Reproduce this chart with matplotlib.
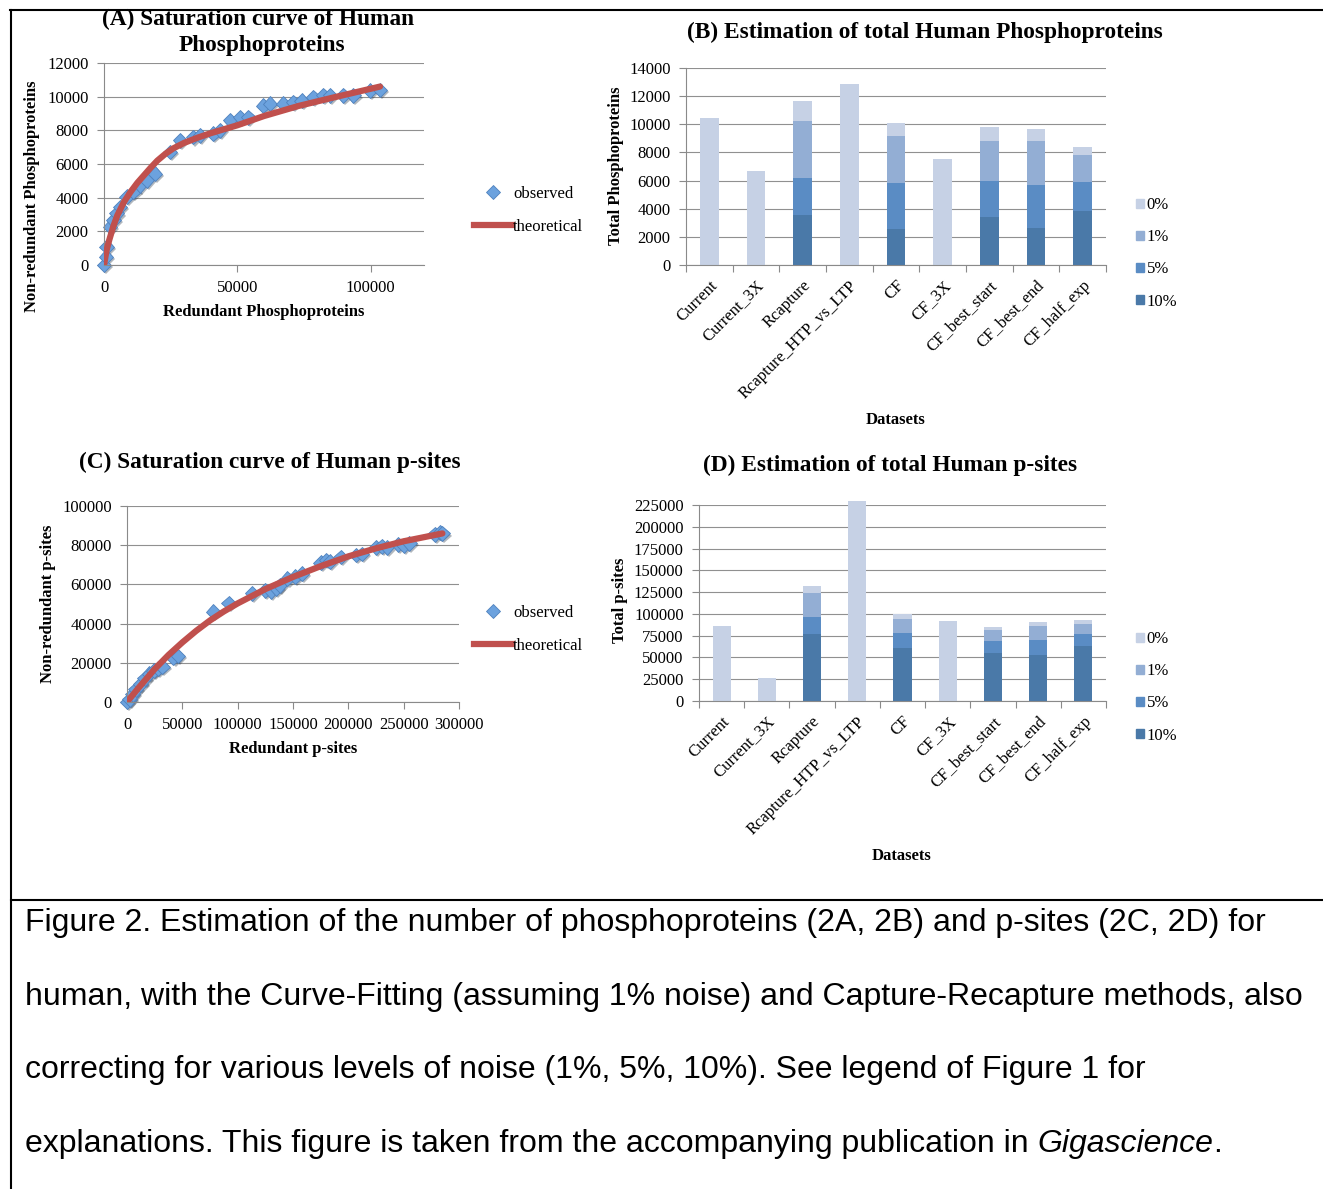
import numpy as np
import matplotlib
matplotlib.use("Agg")
import matplotlib.pyplot as plt
from matplotlib.lines import Line2D
from matplotlib.patches import Patch
import matplotlib.patheffects as pe

# saturation curve of phosphoproteins (panel A)
prot_obs_x = [0, 750, 1000, 2250, 3500, 4750, 6000, 8500, 11000, 13500, 16000, 19100,
              24750, 28500, 33500, 36000, 41000, 43500, 47250, 51000, 54100, 59750,
              62250, 67250, 71000, 74100, 78500, 82250, 84750, 89750, 93500, 99750, 103500]
prot_obs_y = [0, 490, 1090, 2270, 2660, 3060, 3450, 4050, 4340, 4740, 5030, 5430,
              6710, 7400, 7600, 7700, 7800, 8000, 8590, 8780, 8780, 9475,
              9575, 9575, 9670, 9770, 9970, 10070, 10070, 10070, 10070, 10360, 10400]
prot_fit_x = [0, 1000, 2000, 3500, 5000, 7500, 10000, 12500, 15000, 17500, 20000, 23000,
              26000, 30000, 35000, 40000, 50000, 60000, 73000, 86000, 103500]
prot_fit_y = [0, 900, 1500, 2300, 2950, 3750, 4350, 4880, 5330, 5780, 6200, 6600,
              6930, 7250, 7560, 7830, 8300, 8850, 9450, 9950, 10600]

# saturation curve of p-sites (panel C)
site_obs_x = [0, 2400, 5000, 8000, 12000, 16000, 20000, 24000, 28000, 32000, 42000, 46000,
              78000, 92000, 113000, 125000, 130000, 135000, 138000, 145000, 152000, 158000,
              175000, 180000, 183000, 193000, 207000, 212000, 225000, 230000, 235000,
              245000, 250000, 255000, 278000, 283000, 285000]
site_obs_y = [0, 1400, 4000, 6500, 9000, 12000, 14500, 16000, 17000, 18000, 22500, 23500,
              46000, 50500, 55500, 57000, 56500, 58000, 59500, 63000, 64000, 65500,
              71000, 72500, 71500, 74000, 75000, 75500, 79000, 79500, 79000,
              80500, 80000, 81000, 85500, 86500, 86000]
site_fit_x = [0, 10000, 25000, 37500, 50000, 62500, 75000, 87500, 100000, 125000, 150000,
              175000, 200000, 225000, 250000, 285000]
site_fit_y = [0, 6900, 16800, 24000, 30400, 36300, 41600, 46200, 50300, 57600, 63800,
              69300, 74300, 78400, 82000, 86000]

# estimated totals per noise level (panels B and D)
datasets = ["Current", "Current_3X", "Rcapture", "Rcapture_HTP_vs_LTP", "CF", "CF_3X",
            "CF_best_start", "CF_best_end", "CF_half_exp"]
noise_levels = ["0%", "1%", "5%", "10%"]
nan = np.nan
prot_0 = [10450, 6650, 11650, 12860, 10110, 7550, 9820, 9630, 8380]
prot_1 = [nan, nan, 10230, nan, 9160, nan, 8780, 8780, 7850]
prot_5 = [nan, nan, 6170, nan, 5840, nan, 6000, 5670, 5910]
prot_10 = [nan, nan, 3560, nan, 2560, nan, 3420, 2610, 3840]
site_0 = [86000, 26800, 131900, 229600, 99700, 91600, 85100, 90500, 92800]
site_1 = [nan, nan, 124200, nan, 93900, nan, 81300, 85900, 88900]
site_5 = [nan, nan, 96600, nan, 78600, nan, 68600, 69800, 77400]
site_10 = [nan, nan, 77400, nan, 60600, nan, 55200, 53300, 62900]

bar_colors = ["#C6D1E5", "#93AED4", "#5A8CC4", "#4A79A8"]
grey = "#8a8a8a"

W, H = 1323, 1189
plt.rcParams["font.family"] = "Liberation Serif"
fig = plt.figure(figsize=(W / 100, H / 100), dpi=100)


def box(l, t, r, b):
    return [l / W, 1 - b / H, (r - l) / W, (b - t) / H]


def px(x, y):
    return (x / W, 1 - y / H)


def style(ax):
    for s in ["top", "right"]:
        ax.spines[s].set_visible(False)
    for s in ["left", "bottom"]:
        ax.spines[s].set_color(grey)
        ax.spines[s].set_linewidth(0.8)
    ax.grid(axis="y", color="#909090", lw=0.8)
    ax.set_axisbelow(True)
    ax.tick_params(colors=grey, labelcolor="black", labelsize=12, length=5, width=0.8, pad=6)


def saturation(rect, ox, oy, fx_, fy_, xmax, xstep, ymax, ystep, leg_xy):
    ax = fig.add_axes(rect)
    style(ax)
    shadow = [pe.SimplePatchShadow(offset=(1.5, -1.5), alpha=0.35), pe.Normal()]
    ax.plot(ox, oy, "D", ms=7.5, color="#6CA2DE", mec="#4F81BD", mew=0.6,
            clip_on=False, zorder=2, path_effects=shadow)
    ax.plot(fx_, fy_, color="#C0504D", lw=4.5, solid_capstyle="round",
            solid_joinstyle="round", zorder=3)
    ax.set_xlim(0, xmax)
    ax.set_ylim(0, ymax)
    xt = np.arange(0, xmax + 1, xstep)
    yt = np.arange(0, ymax + 1, ystep)
    ax.set_xticks(xt)
    ax.set_xticklabels([str(int(v)) for v in xt])
    ax.set_yticks(yt)
    ax.set_yticklabels([str(int(v)) for v in yt])
    handles = [Line2D([], [], marker="D", ls="none", ms=7, color="#6CA2DE", mec="#4F81BD", mew=0.6),
               Line2D([], [], color="#C0504D", lw=4.5)]
    ax.legend(handles, ["observed", "theoretical"], loc="upper left",
              bbox_to_anchor=px(*leg_xy), bbox_transform=fig.transFigure,
              frameon=False, fontsize=12, borderpad=0, borderaxespad=0,
              handlelength=2.3, handletextpad=0.05, labelspacing=1.0)
    return ax


def estimates(rect, series, ymax, ystep, leg_xy):
    ax = fig.add_axes(rect)
    style(ax)
    x = np.arange(len(datasets))
    # each noise level drawn over the previous one, from 0% (tallest) to 10%
    for vals, col, lab in zip(series, bar_colors, noise_levels):
        ax.bar(x, vals, width=0.4, color=col, label=lab, clip_on=False, zorder=2)
    ax.set_xlim(-0.5, len(datasets) - 0.5)
    ax.set_ylim(0, ymax)
    yt = np.arange(0, ymax + 1, ystep)
    ax.set_yticks(yt)
    ax.set_yticklabels([str(int(v)) for v in yt])
    ax.set_xticks(x)
    ax.set_xticklabels(datasets, rotation=45, ha="right", va="top", rotation_mode="anchor")
    ax.set_xticks(np.arange(-0.5, len(datasets)), minor=True)
    ax.tick_params(axis="x", which="major", length=0, pad=9)
    ax.tick_params(axis="x", which="minor", length=5, color=grey, width=0.8)
    handles = [Patch(color=c) for c in bar_colors]
    ax.legend(handles, noise_levels, loc="upper left",
              bbox_to_anchor=px(*leg_xy), bbox_transform=fig.transFigure,
              frameon=False, fontsize=12, borderpad=0, borderaxespad=0,
              handlelength=0.45, handleheight=0.45, handletextpad=0.2, labelspacing=0.97)
    return ax


saturation(box(104, 63, 424, 265), prot_obs_x, prot_obs_y, prot_fit_x, prot_fit_y,
           120000, 50000, 12000, 2000, (474, 186))
estimates(box(686, 68, 1106, 265), [prot_0, prot_1, prot_5, prot_10], 14000, 2000, (1136, 197))
saturation(box(127, 506, 459, 702), site_obs_x, site_obs_y, site_fit_x, site_fit_y,
           300000, 50000, 100000, 20000, (474, 605))
estimates(box(699, 505, 1106, 701), [site_0, site_1, site_5, site_10], 225000, 25000, (1136, 631))

# panel titles and axis labels
bold = dict(fontweight="bold", ha="center", va="center")
fig.text(*px(258, 19), "(A) Saturation curve of Human", fontsize=16.8, **bold)
fig.text(*px(262, 46), "Phosphoproteins", fontsize=16.8, **bold)
fig.text(*px(925, 32), "(B) Estimation of total Human Phosphoproteins", fontsize=16.8, **bold)
fig.text(*px(270, 462), "(C) Saturation curve of Human p-sites", fontsize=16.8, **bold)
fig.text(*px(890, 465), "(D) Estimation of total Human p-sites", fontsize=16.8, **bold)

fig.text(*px(32, 196), "Non-redundant Phosphoproteins", fontsize=12, rotation=90, **bold)
fig.text(*px(264, 312), "Redundant Phosphoproteins", fontsize=12, **bold)
fig.text(*px(616, 166), "Total Phosphoproteins", fontsize=12, rotation=90, **bold)
fig.text(*px(896, 420), "Datasets", fontsize=12, **bold)
fig.text(*px(48, 604), "Non-redundant p-sites", fontsize=12, rotation=90, **bold)
fig.text(*px(293, 749), "Redundant p-sites", fontsize=12, **bold)
fig.text(*px(620, 600), "Total p-sites", fontsize=12, rotation=90, **bold)
fig.text(*px(902, 856), "Datasets", fontsize=12, **bold)

# frame around the figure and caption cell
frame = dict(transform=fig.transFigure, color="black", lw=1.5)
fig.add_artist(Line2D([10 / W, 1], [1 - 10 / H, 1 - 10 / H], **frame))
fig.add_artist(Line2D([11 / W, 11 / W], [1 - 10 / H, 0], **frame))
fig.add_artist(Line2D([11 / W, 1], [1 - 900 / H, 1 - 900 / H], **frame))

# caption, four double-spaced lines with the journal name in italics
cap = dict(family="Liberation Sans", fontsize=23, ha="left", va="bottom")
caption_lines = [
    "Figure 2. Estimation of the number of phosphoproteins (2A, 2B) and p-sites (2C, 2D) for",
    "human, with the Curve-Fitting (assuming 1% noise) and Capture-Recapture methods, also",
    "correcting for various levels of noise (1%, 5%, 10%). See legend of Figure 1 for",
    "explanations. This figure is taken from the accompanying publication in ",
]
for i, line in enumerate(caption_lines):
    last = fig.text(*px(25, 938 + i * 73.7), line, **cap)
journal = plt.annotate("Gigascience", xy=(1, 0), xycoords=last, style="italic",
                       annotation_clip=False, **cap)
plt.annotate(".", xy=(1, 0), xycoords=journal, annotation_clip=False, **cap)

fig.savefig("out.png", dpi=100)
